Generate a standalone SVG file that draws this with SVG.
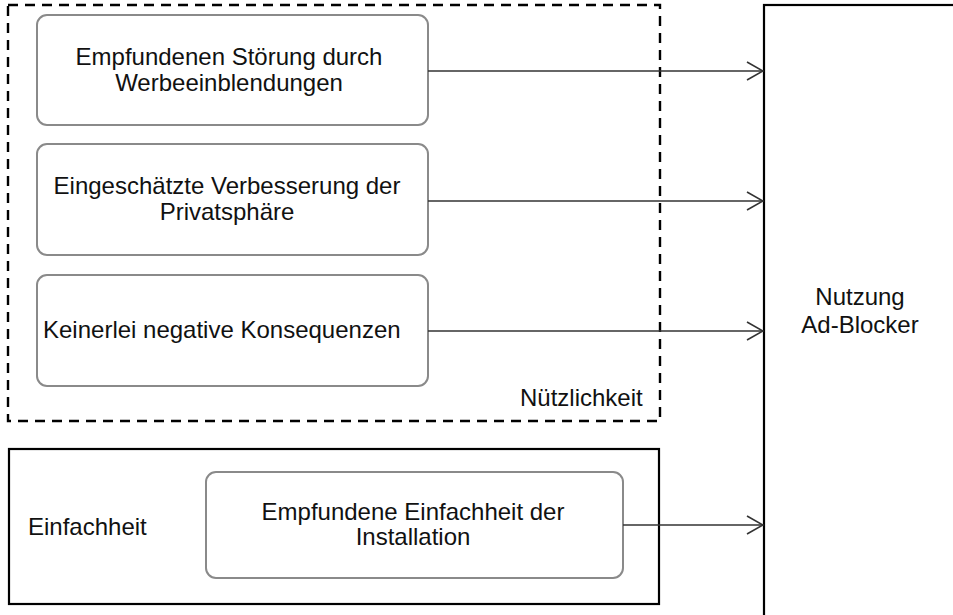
<svg xmlns="http://www.w3.org/2000/svg" width="953" height="615" viewBox="0 0 953 615">
<defs>
<style>
text{font-family:"Liberation Sans",Arial,sans-serif;font-size:24px;fill:#111}
.node{fill:#fff;stroke:#8a8a8a;stroke-width:2}
.conn{stroke:#333;stroke-width:1.6;fill:none}
</style>
<marker id="arr" markerWidth="20" markerHeight="20" refX="17" refY="10" orient="auto" markerUnits="userSpaceOnUse">
<path d="M1,1 L17,10 L1,19" fill="none" stroke="#333" stroke-width="1.6"/>
</marker>
</defs>
<rect width="953" height="615" fill="#fff"/>
<g id="nuetzlichkeit">
<rect x="8" y="5" width="652" height="416" fill="none" stroke="#000" stroke-width="2.4" stroke-dasharray="10,7"/>
<text x="520" y="406">Nützlichkeit</text>
</g>
<g id="einfachheit">
<rect x="9" y="449" width="650" height="155" fill="none" stroke="#000" stroke-width="2.2"/>
<text x="28" y="535">Einfachheit</text>
</g>
<g id="nutzung">
<rect x="764" y="5" width="200" height="620" fill="#fff" stroke="#000" stroke-width="2.2"/>
<text x="860" y="305" text-anchor="middle">Nutzung</text>
<text x="860" y="333" text-anchor="middle">Ad-Blocker</text>
</g>
<g id="stoerung">
<rect class="node" x="37" y="15" width="391" height="110" rx="10"/>
<text x="229" y="65" text-anchor="middle">Empfundenen Störung durch</text>
<text x="229" y="91" text-anchor="middle">Werbeeinblendungen</text>
</g>
<g id="privatsphaere">
<rect class="node" x="37" y="144" width="391" height="111" rx="10"/>
<text x="227" y="194" text-anchor="middle">Eingeschätzte Verbesserung der</text>
<text x="227" y="220" text-anchor="middle">Privatsphäre</text>
</g>
<g id="konsequenzen">
<rect class="node" x="37" y="275" width="391" height="111" rx="10"/>
<text x="43" y="338">Keinerlei negative Konsequenzen</text>
</g>
<g id="installation">
<rect class="node" x="206" y="472" width="417" height="106" rx="10"/>
<text x="413" y="520" text-anchor="middle">Empfundene Einfachheit der</text>
<text x="413" y="545" text-anchor="middle">Installation</text>
</g>
<g id="connectors">
<line class="conn" x1="428" y1="71" x2="763" y2="71" marker-end="url(#arr)"/>
<line class="conn" x1="428" y1="201" x2="763" y2="201" marker-end="url(#arr)"/>
<line class="conn" x1="428" y1="331" x2="763" y2="331" marker-end="url(#arr)"/>
<line class="conn" x1="623" y1="525" x2="763" y2="525" marker-end="url(#arr)"/>
</g>
</svg>
